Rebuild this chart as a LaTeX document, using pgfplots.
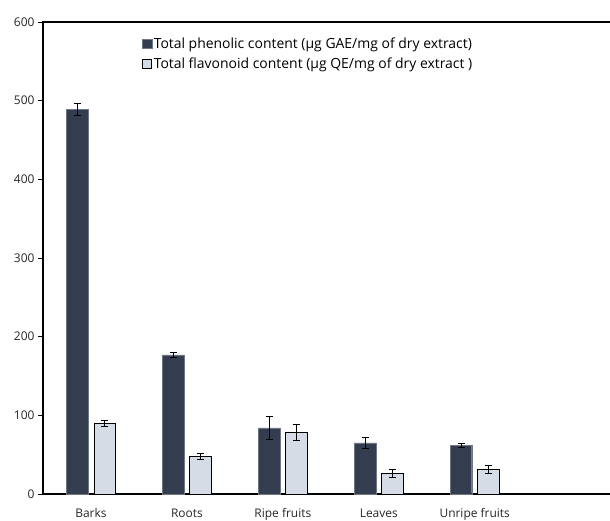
\documentclass[border=0pt]{standalone}
\usepackage{pgfplots}
\pgfplotsset{compat=1.18}
\usepackage{fontspec}
\setmainfont{Open Sans}
\definecolor{darkbar}{HTML}{333D4F}
\definecolor{lightbar}{HTML}{D6DCE5}
\begin{document}
\begin{tikzpicture}
\useasboundingbox (0,0) rectangle (610bp,521bp);
\begin{axis}[
  at={(43bp,27bp)}, anchor=south west,
  scale only axis, width=567bp, height=472bp,
  ybar,
  xmin=-0.5, xmax=5.41, ymin=0, ymax=600,
  ytick={0,100,...,600},
  xtick={0,1,2,3,4},
  xticklabels={Barks,Roots,Ripe fruits,Leaves,Unripe fruits},
  x tick style={draw=none},
  y tick style={black, line width=0.8pt},
  tick align=outside, major tick length=5bp,
  axis line style={draw=none},
  tick label style={font=\fontsize{12}{14}\selectfont, text=black!85},
  /pgf/number format/assume math mode=true,
  xticklabel style={yshift=-6bp},
  bar width=21.3/96,
  clip=false,
  legend style={at={(rel axis cs:0.174,0.976)}, anchor=north west, draw=none, fill=none,
    font=\fontsize{14}{16}\selectfont, row sep=0pt, inner sep=0pt,
    nodes={inner xsep=1.5bp, inner ysep=4bp}},
  legend cell align=left,
  legend image code/.code={\draw[#1] (0bp,-4.7bp) rectangle (9.5bp,4.7bp);},
]
\draw[line width=1.2pt] (rel axis cs:0,0) -- (rel axis cs:1,0);
\draw[line width=1.2pt] (rel axis cs:0,0) -- (rel axis cs:0,1) -- (rel axis cs:1,1);
\addplot[fill=darkbar, draw=darkbar!70!white, line width=0.4pt, bar shift=-0.1425,
  error bars/.cd, y dir=both, y explicit,
  error bar style={black, line width=0.9pt},
  error mark options={rotate=90, mark size=3.5bp, line width=0.9pt, black}]
  table[x=x, y=y, y error=e] {
x y e
0 489 8
1 177 3.5
2 84 15
3 65 7
4 61.5 2.5
};
\addlegendentry{Total phenolic content (µg GAE/mg of dry extract)}
\addplot[fill=lightbar, draw=black, line width=0.9pt, bar shift=0.1425,
  error bars/.cd, y dir=both, y explicit,
  error bar style={black, line width=0.9pt},
  error mark options={rotate=90, mark size=3.5bp, line width=0.9pt, black}]
  table[x=x, y=y, y error=e] {
x y e
0 90 4
1 48 3.5
2 78 10
3 26.5 5.3
4 31 5.5
};
\addlegendentry{Total flavonoid content (µg QE/mg of dry extract )}
\end{axis}
\end{tikzpicture}
\end{document}
